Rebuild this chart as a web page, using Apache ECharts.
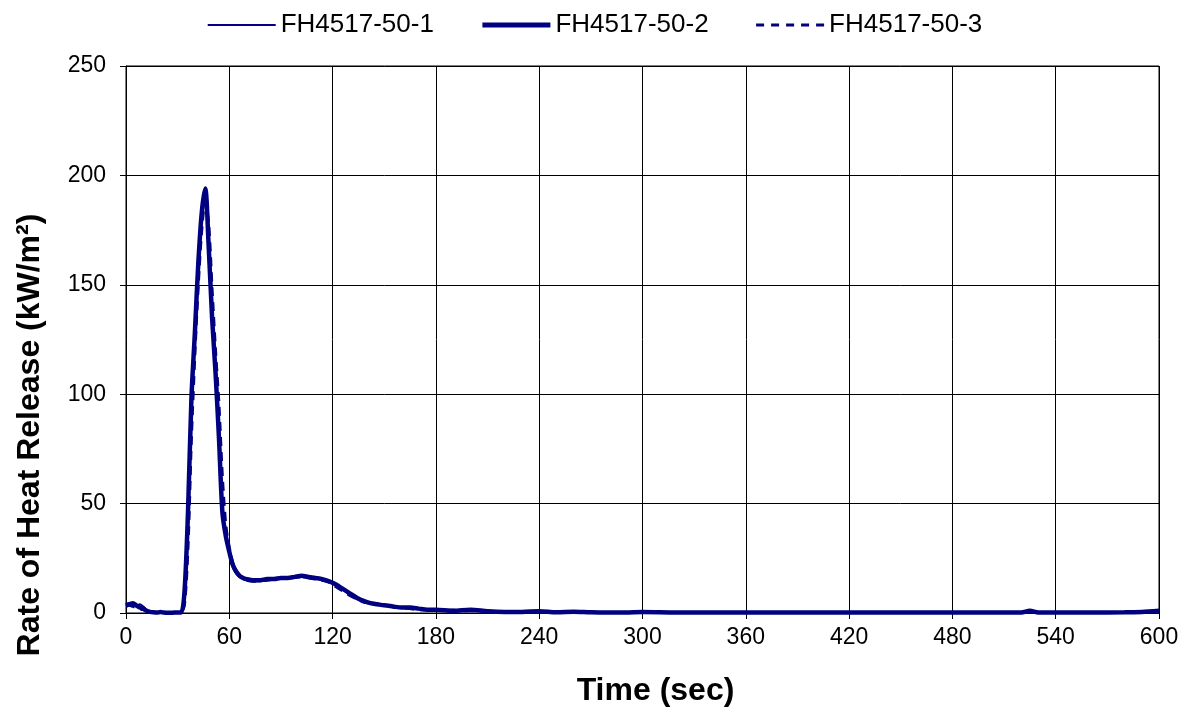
<!DOCTYPE html>
<html>
<head>
<meta charset="utf-8">
<script src="https://cdn.jsdelivr.net/npm/echarts@6/dist/echarts.min.js"></script>
<style>
  html, body { margin: 0; padding: 0; background: #fff; }
  #chart { width: 1189px; height: 708px; }
</style>
</head>
<body>
<div id="chart"></div>
<script>
//--------------------------------
// Data
//--------------------------------
const time = [
    0, 2, 4, 6, 8, 10, 12, 14, 16, 18, 20, 22, 24, 26, 28, 30,
    32, 34, 36, 38, 40, 42, 44, 46, 48, 50, 52, 54, 56, 58, 60, 62, 64, 66, 68, 70,
    74, 78, 82, 86, 90, 94, 98, 102, 106, 110, 114, 118, 122, 126, 130, 134, 138, 142, 146, 150,
    155, 160, 165, 170, 175, 180,
    190, 200, 210, 220, 230, 240, 250, 260, 270, 280, 290, 300,
    320, 340, 360, 380, 400, 420, 440, 460, 480, 500,
    520, 525, 530, 540, 560, 580, 590, 600
];

const run1 = [
    4, 4.5, 3.5, 3, 4, 3, 1.5, 0.8, 0.5, 0.3, 0.5, 0.2, 0.2, 0.2, 0.3, 0.3,
    0.5, 8, 42, 95, 130, 162, 184, 192, 168, 135, 108, 78, 46, 34, 27, 21, 18, 16.5, 15.5, 15,
    14.5, 14.5, 15, 15.5, 15.5, 16, 16.5, 16.5, 16, 16, 15, 14, 12.5, 10.5, 8.5, 6.5, 5, 4.5, 4, 3.5,
    3, 2.5, 2, 2, 1.5, 1.5,
    1.5, 1, 1, 0.5, 0.8, 0.5, 0.5, 0.3, 0.6, 0.2, 0.2, 0.2,
    0.2, 0.2, 0.2, 0.2, 0.2, 0.2, 0.2, 0.2, 0.2, 0.2,
    0.2, 0.8, 0.2, 0.2, 0.2, 0.3, 0.6, 0.8
];

const run2 = [
    3.5, 4, 4.5, 3.5, 2.5, 2, 1, 0.5, 0.3, 0.2, 0.4, 0.2, 0.1, 0.1, 0.2, 0.2,
    0.3, 10, 46, 98, 128, 160, 183, 194, 168, 135, 110, 80, 46, 35, 28, 22, 19, 17, 16, 15.5,
    15, 15, 15.5, 15.5, 16, 16, 16.5, 17, 16.5, 16, 15.5, 14.5, 13, 11, 9, 7, 5.5, 4.5, 4, 3.5,
    3, 2.5, 2.5, 2, 1.5, 1.5,
    1, 1.5, 0.8, 0.5, 0.5, 0.8, 0.3, 0.6, 0.3, 0.2, 0.2, 0.4,
    0.2, 0.2, 0.2, 0.2, 0.2, 0.2, 0.2, 0.2, 0.2, 0.2,
    0.2, 1, 0.2, 0.2, 0.2, 0.3, 0.5, 1
];

const run3 = [
    3, 3.5, 3, 2.5, 2, 1.5, 0.8, 0.4, 0.2, 0.2, 0.3, 0.2, 0.1, 0.1, 0.1, 0.2,
    0.2, 4, 30, 80, 118, 150, 175, 188, 178, 148, 120, 95, 62, 40, 30, 23, 19, 17, 16, 15,
    14.5, 15, 15, 15.5, 16, 16, 16.5, 16.5, 16, 15.5, 15, 14, 12, 10, 8, 6.5, 5, 4.5, 4, 3.5,
    3, 2.5, 2, 1.5, 1.5, 1.5,
    1, 1, 0.8, 0.5, 0.5, 0.3, 0.3, 0.3, 0.2, 0.2, 0.2, 0.2,
    0.2, 0.2, 0.2, 0.2, 0.2, 0.2, 0.2, 0.2, 0.2, 0.2,
    0.2, 0.5, 0.2, 0.2, 0.2, 0.3, 0.4, 0.8
];

const names = ['FH4517-50-1', 'FH4517-50-2', 'FH4517-50-3'];
const xTicks = { min: 0, max: 600, interval: 60 };
const yTicks = { min: 0, max: 250, interval: 50 };

//--------------------------------
// Chart
//--------------------------------
const NAVY = '#000080';
const pairs = (vals) => time.map((t, i) => [t, vals[i]]);

const myChart = echarts.init(document.getElementById('chart'));

const options = {
    animation: false,
    legend: {
        top: 7,
        left: 'center',
        itemWidth: 68,
        itemHeight: 14,
        itemGap: 46,
        itemStyle: { opacity: 0 },
        textStyle: { fontFamily: 'Liberation Sans, Arial', fontSize: 26, color: '#000' },
        data: [
            { name: names[0], lineStyle: { width: 2 } },
            { name: names[1], lineStyle: { width: 5 } },
            { name: names[2], lineStyle: { width: 3, type: [8, 7] } }
        ]
    },
    grid: {
        left: 126,
        right: 30,
        top: 66,
        bottom: 95,
        outerBoundsMode: 'none',
        show: true,
        borderColor: '#000',
        borderWidth: 1
    },
    xAxis: {
        type: 'value',
        min: xTicks.min,
        max: xTicks.max,
        interval: xTicks.interval,
        name: 'Time (sec)',
        nameLocation: 'middle',
        nameGap: 62,
        nameTextStyle: {
            fontFamily: 'Liberation Sans, Arial',
            fontSize: 32,
            fontWeight: 'bold',
            color: '#000',
            padding: [0, 0, 0, 26]
        },
        axisLine: { show: true, lineStyle: { color: '#000', width: 1 } },
        axisTick: { show: true, length: 6, lineStyle: { color: '#000' } },
        axisLabel: { fontFamily: 'Liberation Sans, Arial', fontSize: 23, color: '#000', margin: 13 },
        splitLine: { show: true, lineStyle: { color: '#000', width: 1 } }
    },
    yAxis: {
        type: 'value',
        min: yTicks.min,
        max: yTicks.max,
        interval: yTicks.interval,
        axisLine: { show: true, lineStyle: { color: '#000', width: 1 } },
        axisTick: { show: true, length: 6, lineStyle: { color: '#000' } },
        axisLabel: { fontFamily: 'Liberation Sans, Arial', fontSize: 23, color: '#000', margin: 20 },
        splitLine: { show: true, lineStyle: { color: '#000', width: 1 } }
    },
    graphic: [
        {
            type: 'text',
            x: 30,
            y: 435,
            rotation: Math.PI / 2,
            style: {
                text: 'Rate of Heat Release (kW/m²)',
                fontFamily: 'Liberation Sans, Arial',
                fontSize: 32,
                fontWeight: 'bold',
                fill: '#000',
                align: 'center',
                verticalAlign: 'middle'
            }
        }
    ],
    series: [
        {
            name: names[0],
            type: 'line',
            symbol: 'none',
            smooth: 0.3,
            lineStyle: { color: NAVY, width: 2 },
            itemStyle: { color: NAVY },
            data: pairs(run1)
        },
        {
            name: names[1],
            type: 'line',
            symbol: 'none',
            smooth: 0.3,
            lineStyle: { color: NAVY, width: 4.5 },
            itemStyle: { color: NAVY },
            data: pairs(run2)
        },
        {
            name: names[2],
            type: 'line',
            symbol: 'none',
            smooth: 0.3,
            lineStyle: { color: NAVY, width: 3, type: [9, 6] },
            itemStyle: { color: NAVY },
            data: pairs(run3)
        }
    ]
};

myChart.setOption(options);
</script>
</body>
</html>
